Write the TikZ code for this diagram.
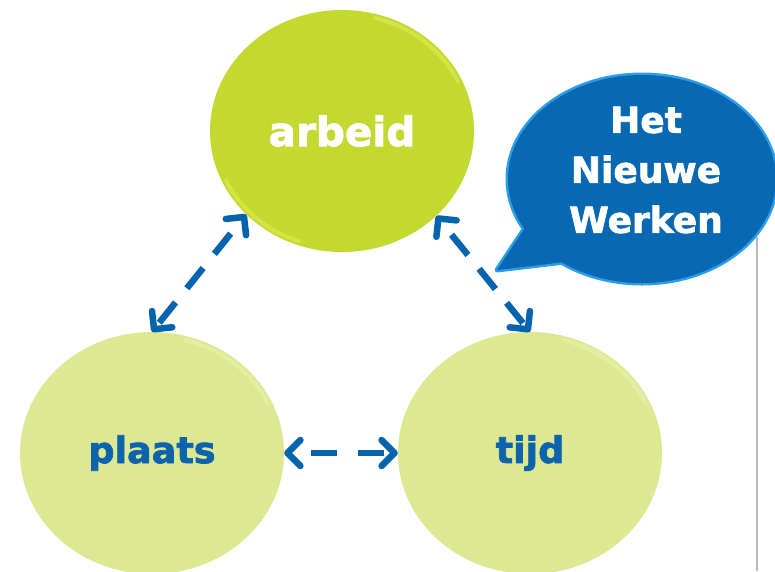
\documentclass[tikz,border=0pt]{standalone}
\usepackage{fontspec}
\setmainfont{DejaVu Sans}[BoldFeatures={FakeBold=2}]
\usetikzlibrary{arrows.meta,shapes.geometric,decorations}
\definecolor{limegreen}{HTML}{C3D92F}
\definecolor{limehi}{HTML}{E4F25A}
\definecolor{palegreen}{HTML}{DCE892}
\definecolor{palehi}{HTML}{EBF4B0}
\definecolor{arrowblue}{HTML}{0663AE}
\definecolor{bubbleblue}{HTML}{0868B2}
\definecolor{bubbleedge}{HTML}{2B9DEB}
\definecolor{textblue}{HTML}{0D63AC}
\begin{document}
\begin{tikzpicture}[x=1pt,y=-1pt,
  blob/.style={ellipse, inner sep=0pt, minimum width=264pt, minimum height=242pt, font=\bfseries\fontsize{36.5}{40}\selectfont},
  mainblob/.style={blob, fill=limegreen, text=white, font=\bfseries\fontsize{40.5}{44}\selectfont},
  sideblob/.style={blob, fill=palegreen, text=textblue},
  bubble/.style={ellipse, inner sep=0pt, minimum width=268pt, minimum height=208pt},
  bubbletext/.style={text=white, align=center, inner sep=0pt, font=\bfseries\fontsize{36}{50}\selectfont},
  conn/.style={draw=arrowblue, line width=6.5pt, dash pattern=on 26pt off 16pt, dash expand off,
    {Straight Barb[length=13pt,width=26pt,round]}-{Straight Barb[length=13pt,width=26pt,round]}},
  rim/.style={line width=4pt, line cap=round, opacity=0.5}
]
\useasboundingbox (0,0) rectangle (775,571);

% artifact line at right
\draw[gray!55, line width=1.2pt] (757,237) -- (757,571);

% circles
\node[mainblob] (arbeid) at (342,131) {arbeid};
\node[sideblob] (plaats) at (152,453) {plaats};
\node[sideblob] (tijd) at (530,453) {tijd};

% rim highlights
\draw[rim, limehi] (arbeid.center) ++(-25:128 and 117) arc (-25:-75:128 and 117);
\draw[rim, limehi] (arbeid.center) ++(-205:128 and 117) arc (-205:-250:128 and 117);
\draw[rim, palehi] (plaats.center) ++(-25:128 and 117) arc (-25:-75:128 and 117);
\draw[rim, palehi] (tijd.center) ++(-25:128 and 117) arc (-25:-75:128 and 117);

% speech bubble
\coordinate (tailtip) at (497,270);
\node[bubble] (hnw) at (642,179) {};
\draw[bubbleedge, line width=5pt, line join=round] (hnw.203) -- (tailtip) -- (hnw.226) -- cycle;
\draw[bubbleedge, line width=5pt] (hnw.center) ellipse (134 and 104);
\fill[bubbleblue] (hnw.203) -- (tailtip) -- (hnw.226) -- cycle;
\fill[bubbleblue] (hnw.center) ellipse (134 and 104);
\node[bubbletext] (hnwtext) at (646,170) {Het\\Nieuwe\\Werken};

% connectors
\draw[conn] (arbeid.221) -- (plaats.90);
\draw[conn] (arbeid.318) -- (tijd.90);
\draw[conn] (plaats.east) -- (tijd.west);
\end{tikzpicture}
\end{document}
